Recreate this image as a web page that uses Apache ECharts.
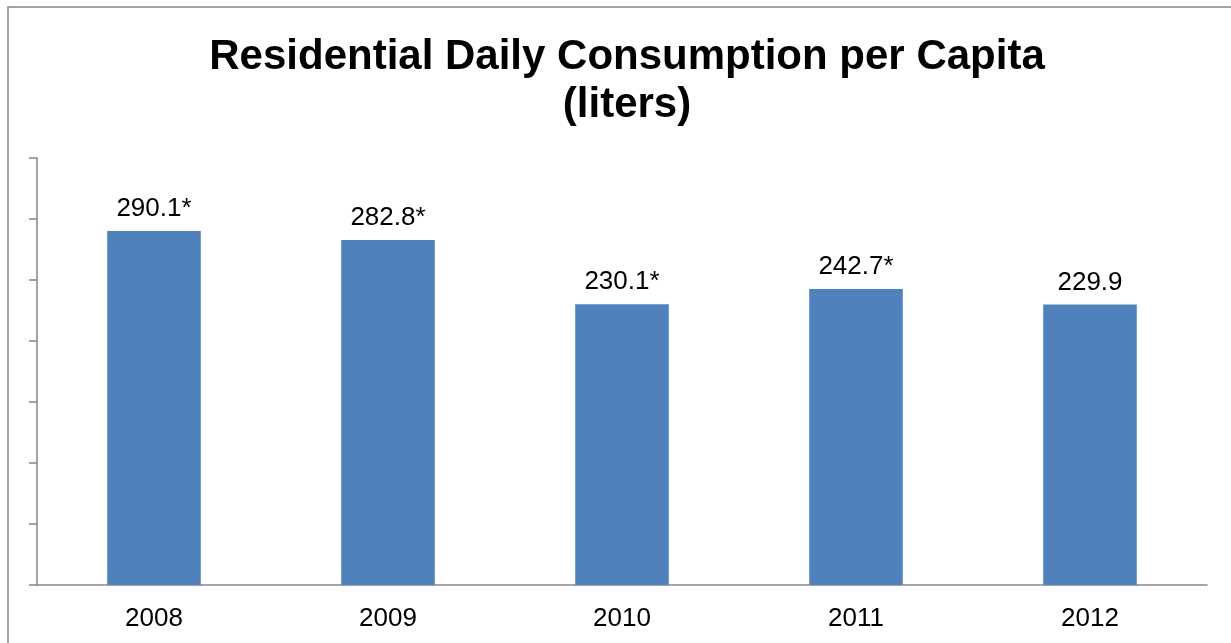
<!DOCTYPE html>
<html>
<head>
<meta charset="utf-8">
<script src="https://cdn.jsdelivr.net/npm/echarts@6/dist/echarts.min.js"></script>
<style>
	html, body {margin: 0; padding: 0; background: #fff;}
	#chart {width: 1231px; height: 643px;}
</style>
</head>
<body>
<div id="chart"></div>
<script>
const years = ['2008', '2009', '2010', '2011', '2012']
const consumption = [290.1, 282.8, 230.1, 242.7, 229.9]
const valueLabels = ['290.1*', '282.8*', '230.1*', '242.7*', '229.9']

const chart = echarts.init(document.getElementById('chart'))

chart.setOption({
	backgroundColor: '#fff',
	animation: false,
	textStyle: {fontFamily: 'Liberation Sans, Arial, sans-serif'},
	title: {
		text: 'Residential Daily Consumption per Capita\n(liters)',
		left: 622,
		top: 28,
		textAlign: 'center',
		textStyle: {
			fontSize: 42,
			fontWeight: 'bold',
			color: '#000',
			lineHeight: 48,
			fontFamily: 'Liberation Sans, Arial, sans-serif'
		}
	},
	graphic: [{
		// outer chart border (only top and left visible)
		type: 'rect',
		shape: {x: 8, y: 7, width: 1240, height: 660},
		style: {fill: 'none', stroke: '#868686', lineWidth: 1.5}
	}],
	grid: {left: 37, right: 24, top: 158, bottom: 58},
	xAxis: {
		type: 'category',
		data: years,
		axisLine: {lineStyle: {color: '#868686', width: 1.5}},
		axisTick: {show: false},
		axisLabel: {color: '#000', fontSize: 26, margin: 21}
	},
	yAxis: {
		type: 'value',
		min: 0,
		max: 350,
		interval: 50,
		axisLine: {show: true, lineStyle: {color: '#868686', width: 1.5}},
		axisTick: {show: true, length: 8, lineStyle: {color: '#868686', width: 1.5}},
		axisLabel: {show: false},
		splitLine: {show: false}
	},
	series: [{
		type: 'bar',
		data: consumption,
		barWidth: '40%',
		itemStyle: {color: '#4F81BD'},
		label: {
			show: true,
			position: 'top',
			distance: 9,
			color: '#000',
			fontSize: 26,
			formatter: p => valueLabels[p.dataIndex]
		}
	}]
})
</script>
</body>
</html>
